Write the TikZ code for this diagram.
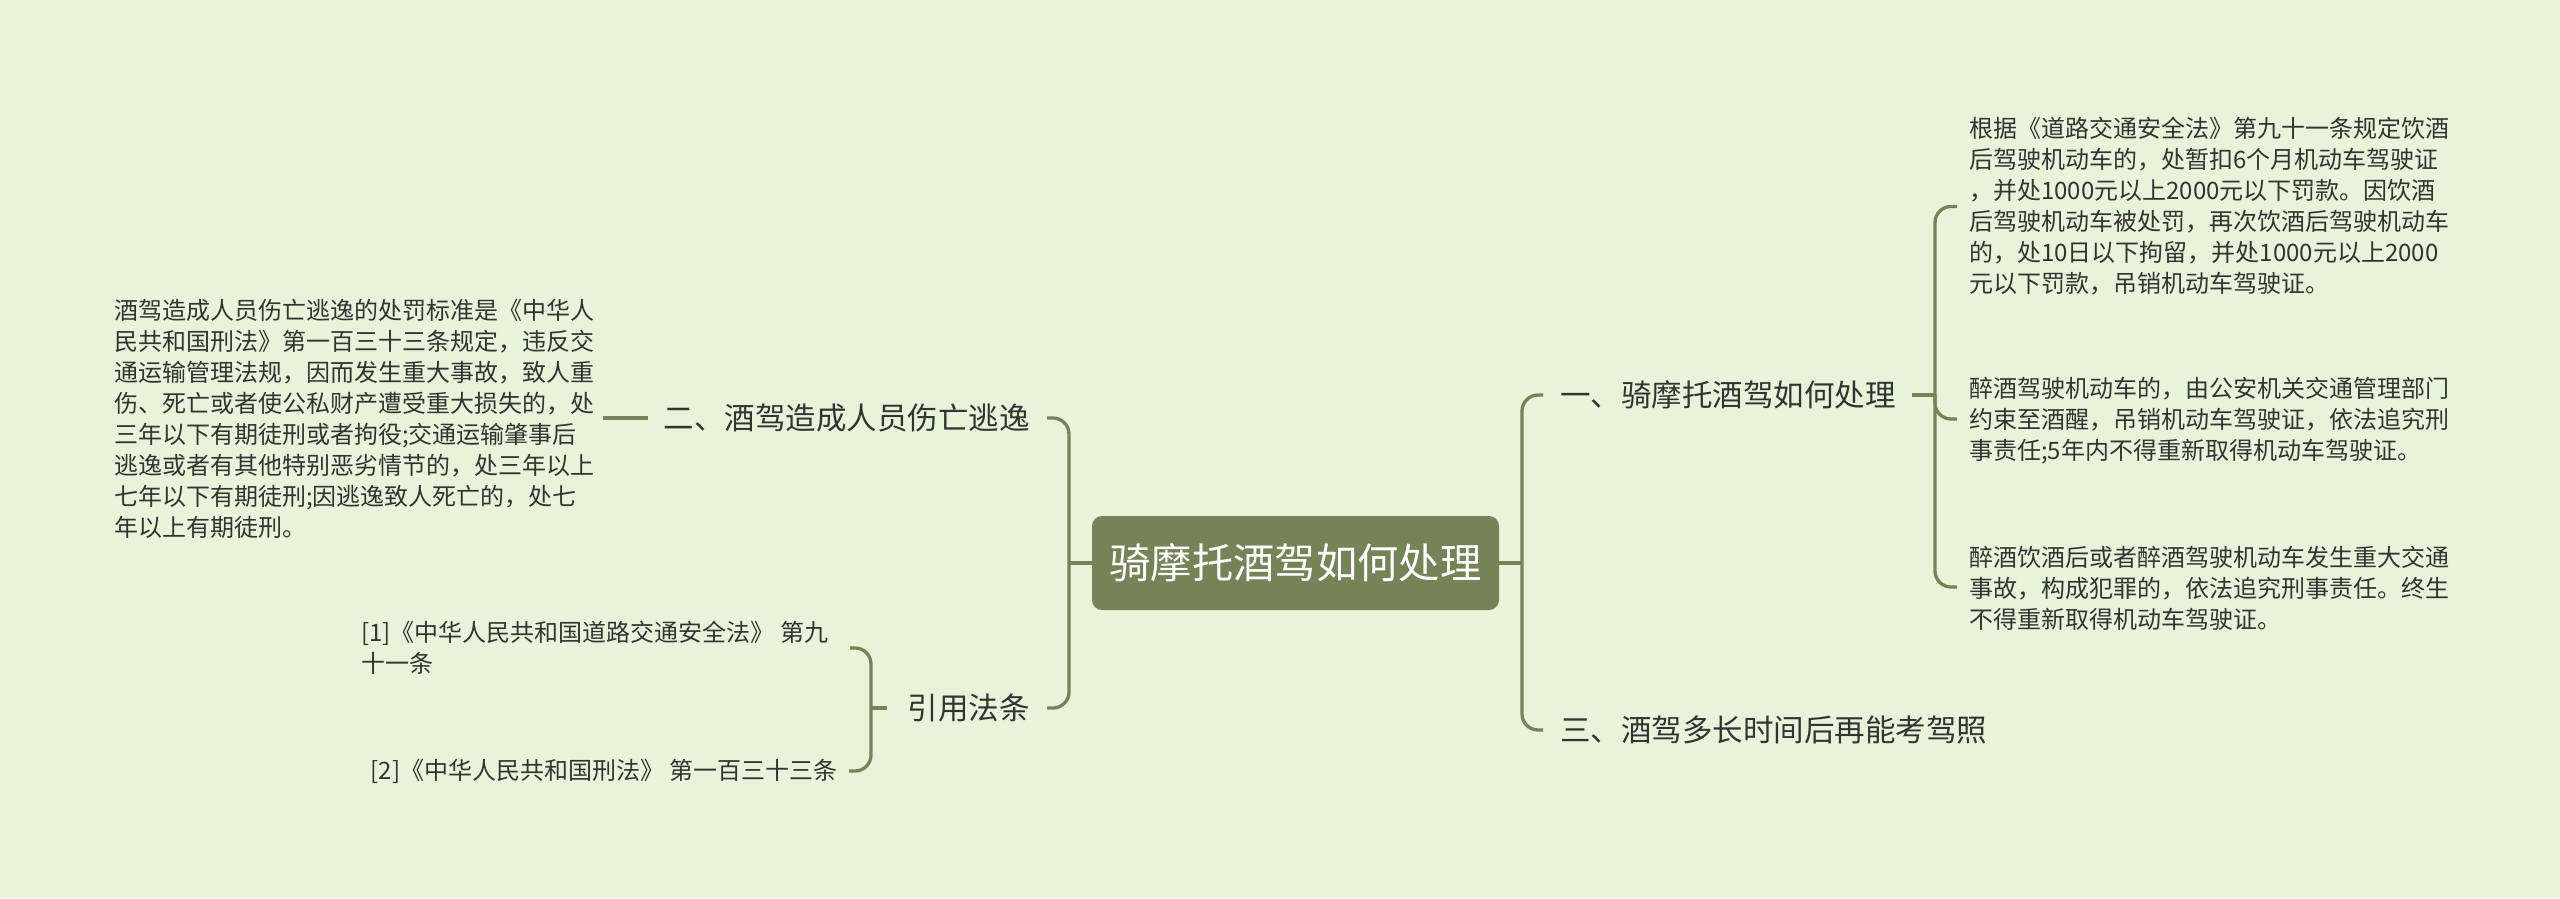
\documentclass[tikz,border=0pt]{standalone}
\usepackage{fontspec}
\setmainfont{Noto Sans CJK SC}
\definecolor{bgc}{HTML}{E8F4DA}
\definecolor{olive}{HTML}{758457}
\definecolor{txt}{HTML}{333333}
\begin{document}
\begin{tikzpicture}[x=1pt,y=-1pt,
  conn/.style={draw=olive,line width=3.3pt,rounded corners=16pt},
  rootbox/.style={fill=olive,rounded corners=10pt,minimum width=407pt,minimum height=94pt,inner sep=0pt,text=white,font={\fontsize{41.3}{46}\selectfont}},
  branch/.style={inner sep=0pt,text=txt,font={\fontsize{30.5}{36}\selectfont}},
  leaf/.style={inner sep=0pt,text=txt,align=left,font={\fontsize{24}{31}\selectfont}}]
\useasboundingbox (0,0) rectangle (2560,898);
\fill[bgc] (0,0) rectangle (2560,898);

\node[rootbox] (root) at (1295.5,563) {骑摩托酒驾如何处理};

\node[branch,anchor=west] (b1) at (1560,395) {一、骑摩托酒驾如何处理};
\node[branch,anchor=west] (b3) at (1560,730) {三、酒驾多长时间后再能考驾照};
\node[branch,anchor=east] (b2) at (1030,418) {二、酒驾造成人员伤亡逃逸};
\node[branch,anchor=east] (b4) at (1030,708) {引用法条};

\node[leaf,anchor=west] (l1) at (1969,206.5) {根据《道路交通安全法》第九十一条规定饮酒\\后驾驶机动车的，处暂扣6个月机动车驾驶证\\，并处1000元以上2000元以下罚款。因饮酒\\后驾驶机动车被处罚，再次饮酒后驾驶机动车\\的，处10日以下拘留，并处1000元以上2000\\元以下罚款，吊销机动车驾驶证。};
\node[leaf,anchor=west] (l2) at (1969,421) {醉酒驾驶机动车的，由公安机关交通管理部门\\约束至酒醒，吊销机动车驾驶证，依法追究刑\\事责任;5年内不得重新取得机动车驾驶证。};
\node[leaf,anchor=west] (l3) at (1969,588) {醉酒饮酒后或者醉酒驾驶机动车发生重大交通\\事故，构成犯罪的，依法追究刑事责任。终生\\不得重新取得机动车驾驶证。};
\node[leaf,anchor=west] (l4) at (114,418.5) {酒驾造成人员伤亡逃逸的处罚标准是《中华人\\民共和国刑法》第一百三十三条规定，违反交\\通运输管理法规，因而发生重大事故，致人重\\伤、死亡或者使公私财产遭受重大损失的，处\\三年以下有期徒刑或者拘役;交通运输肇事后\\逃逸或者有其他特别恶劣情节的，处三年以上\\七年以下有期徒刑;因逃逸致人死亡的，处七\\年以上有期徒刑。};
\node[leaf,anchor=west] (r1) at (361,647.5) {[1]《中华人民共和国道路交通安全法》 第九\\十一条};
\node[leaf,anchor=east] (r2) at (838,771) {[2]《中华人民共和国刑法》 第一百三十三条};

% right main bracket
\coordinate (rj) at (1522,563);
\draw[conn] (root.east) -- (rj);
\draw[conn] ([xshift=-17pt]b1.west) -- (1522,395) -- (1522,730) -- ([xshift=-17pt]b3.west);
% left main bracket
\coordinate (lj) at (1069,563);
\draw[conn] (root.west) -- (lj);
\draw[conn] ([xshift=17pt]b2.east) -- (1069,418) -- (1069,708) -- ([xshift=17pt]b4.east);
% b1 sub bracket
\draw[conn] ([xshift=16pt]b1.east) -- (1935,395);
\draw[conn] ([xshift=-12pt]l1.west |- l1.west) -- (1935,206.5) -- (1935,587) -- ([xshift=-12pt]l3.west |- 0,587);
\draw[conn] (1935,395) -- (1935,419) -- ([xshift=-12pt]l2.west |- 0,419);
% b2 to leaf
\coordinate (lf) at (603,418);
\draw[conn] ([xshift=-16pt]b2.west) -- (lf);
% b4 bracket
\draw[conn] ([xshift=-21pt]b4.west) -- (871,708);
\draw[conn] (850,648) -- (871,648) -- (871,771) -- ([xshift=11pt]r2.east);
\end{tikzpicture}
\end{document}
